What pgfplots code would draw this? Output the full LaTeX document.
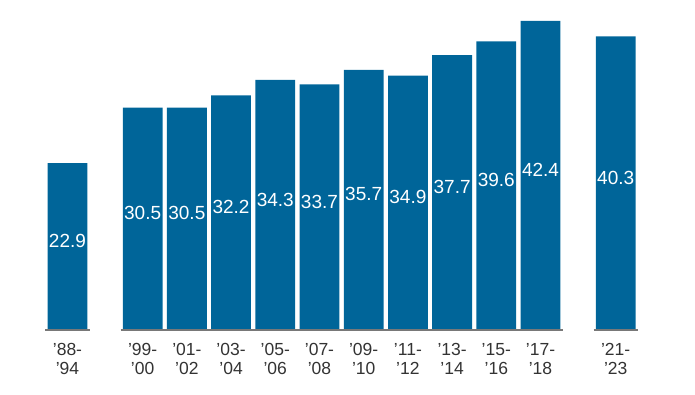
\documentclass[border=0pt]{standalone}
\usepackage{fontspec}
\setmainfont{Liberation Sans}
\usepackage{pgfplots}
\pgfplotsset{compat=1.18}
\definecolor{barblue}{RGB}{0,101,153}
\definecolor{tickgray}{RGB}{51,51,51}
\definecolor{basegray}{RGB}{120,120,120}
\begin{document}
\begin{tikzpicture}
\begin{axis}[
  scale only axis,
  width=595.5bp, height=328bp,
  xmin=-0.52, xmax=12.95,
  ymin=0, ymax=45,
  axis y line=none,
  axis x line*=bottom,
  x axis line style={draw=none},
  major tick length=0pt,
  xtick={0,1.7,2.7,3.7,4.7,5.7,6.7,7.7,8.7,9.7,10.7,12.4},
  xticklabels={{’88-\\’94},{’99-\\’00},{’01-\\’02},{’03-\\’04},{’05-\\’06},{’07-\\’08},{’09-\\’10},{’11-\\’12},{’13-\\’14},{’15-\\’16},{’17-\\’18},{’21-\\’23}},
  xticklabel style={align=center, font=\fontsize{17.5bp}{19bp}\selectfont, text=tickgray, yshift=-10bp},
  clip=false,
]
\addplot[ybar, bar width=0.9, fill=barblue, draw=none,
  visualization depends on=y \as \rawy,
  nodes near coords,
  nodes near coords style={/pgf/number format/fixed, /pgf/number format/precision=1, /pgf/number format/fixed zerofill, /pgf/number format/assume math mode=true},
  every node near coord/.append style={anchor=center, text=white, inner sep=0pt, font=\fontsize{19bp}{21bp}\selectfont, yshift={(5.5-3.644*\rawy)*1bp}},
] coordinates {
  (0,22.9) (1.7,30.5) (2.7,30.5) (3.7,32.2) (4.7,34.3) (5.7,33.7) (6.7,35.7) (7.7,34.9) (8.7,37.7) (9.7,39.6) (10.7,42.4) (12.4,40.3)
};
\addplot[basegray, line width=1.5bp, forget plot] coordinates {(-0.5,0) (0.5,0)};
\addplot[basegray, line width=1.5bp, forget plot] coordinates {(1.2,0) (11.2,0)};
\addplot[basegray, line width=1.5bp, forget plot] coordinates {(11.9,0) (12.9,0)};
\end{axis}
\pgfresetboundingbox
\path (-44.5bp,-65bp) rectangle (650.5bp,330bp);
\end{tikzpicture}
\end{document}
